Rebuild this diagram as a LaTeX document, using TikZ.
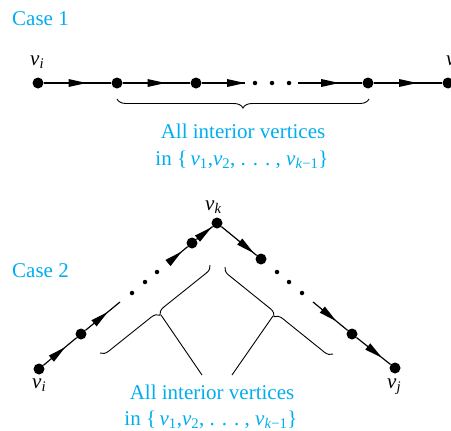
\documentclass[tikz,border=0pt]{standalone}
\usepackage{fontspec}
\setmainfont{Liberation Serif}
\usetikzlibrary{decorations.markings,decorations.pathreplacing,arrows.meta}
\definecolor{cyantext}{RGB}{0,174,239}
\newcommand\vx[1]{\textit{v}\textsubscript{#1}}
\newcommand\dotsx{.\hspace{7pt}.\hspace{7pt}.}
\begin{document}
\begin{tikzpicture}[x=1pt,y=1pt,
  vert/.style={circle,fill=black,inner sep=0pt,minimum size=11pt},
  sdot/.style={circle,fill=black,inner sep=0pt,minimum size=4.5pt},
  edge/.style={line width=1.2pt},
  marr/.style={postaction={decorate},decoration={markings,mark=at position #1 with {\fill (-9pt,-4pt) -- (9pt,0pt) -- (-9pt,4pt) -- cycle;}}},
  lbl/.style={font=\fontsize{21}{25}\selectfont,inner sep=0pt},
  cyanlbl/.style={lbl,text=cyantext},
  brc/.style={line width=0.9pt,decorate,decoration={brace,amplitude=#1}},
  brcm/.style={line width=0.9pt,decorate,decoration={brace,mirror,amplitude=#1}},
  lead/.style={line width=0.9pt}
]
\useasboundingbox (0,0) rectangle (451,-431);

% ---------- Case 1 ----------
\node[cyanlbl,anchor=base west] (case1) at (12,-25) {Case 1};
\node[vert] (a0) at (38,-83) {};
\node[vert] (a1) at (117,-83) {};
\node[vert] (a2) at (196,-83) {};
\coordinate (a2e) at (245,-83);
\node[sdot] (ad1) at (255,-83) {};
\node[sdot] (ad2) at (272,-83) {};
\node[sdot] (ad3) at (289,-83) {};
\coordinate (a3s) at (298,-83);
\node[vert] (a3) at (368,-83) {};
\node[vert] (a4) at (448,-83) {};
\node[lbl,anchor=base west] (la0) at (30,-65) {\vx{\textit{i}}};
\node[lbl,anchor=base west] (la4) at (446,-65) {\vx{\textit{j}}};

\draw[edge,marr=0.5] (a0) -- (a1);
\draw[edge,marr=0.5] (a1) -- (a2);
\draw[edge,marr=-9pt] (a2) -- (a2e);
\draw[edge,marr=0.5] (a3s) -- (a3);
\draw[edge,marr=0.5] (a3) -- (a4);

\coordinate (b1s) at (117,-99);
\coordinate (b1e) at (369,-99);
\draw[brcm=9pt] (b1s) -- (b1e);
\node[cyanlbl,anchor=base] (t1a) at (243,-138) {All interior vertices};
\node[cyanlbl,anchor=base] (t1b) at (242,-165) {in \{\,\vx{1},\vx{2}, \dotsx\ , \vx{\textit{k}−1}\}};

% ---------- Case 2 ----------
\node[cyanlbl,anchor=base west] (case2) at (12,-277) {Case 2};
\node[vert] (c0) at (39,-369) {};
\node[vert] (c1) at (81,-334) {};
\coordinate (c1e) at (120,-302);
\node[sdot] (cd1) at (132,-293) {};
\node[sdot] (cd2) at (145,-282) {};
\node[sdot] (cd3) at (157,-272) {};
\coordinate (c2s) at (168,-263);
\node[vert] (c2) at (192,-243) {};
\node[vert] (ck) at (217,-223) {};
\node[vert] (c3) at (261,-259) {};
\node[sdot] (cd4) at (277,-272) {};
\node[sdot] (cd5) at (289,-282) {};
\node[sdot] (cd6) at (302,-293) {};
\coordinate (c4s) at (313,-302);
\node[vert] (c4) at (352,-334) {};
\node[vert] (cj) at (395,-368) {};

\node[lbl,anchor=base west] (lck) at (205,-210) {\vx{\textit{k}}};
\node[lbl,anchor=base west] (lc0) at (32,-388) {\vx{\textit{i}}};
\node[lbl,anchor=base west] (lcj) at (387,-388) {\vx{\textit{j}}};

\draw[edge,marr=0.45] (c0) -- (c1);
\draw[edge,marr=0.45] (c1) -- (c1e);
\draw[edge,marr=9pt] (c2s) -- (c2);
\draw[edge,marr=0.5] (c2) -- (ck);
\draw[edge,marr=0.72] (ck) -- (c3);
\draw[edge,marr=0.47] (c4s) -- (c4);
\draw[edge,marr=0.54] (c4) -- (cj);

\coordinate (lbA) at (210,-265);
\coordinate (lbB) at (100,-353);
\coordinate (rbA) at (333,-354);
\coordinate (rbB) at (225,-267);
\draw[brc=8pt] (lbA) -- (lbB);
\draw[brc=8pt] (rbA) -- (rbB);
\coordinate (lbt) at (161,-315);
\coordinate (rbt) at (273,-316);
\coordinate (lbe) at (202,-375);
\coordinate (rbe) at (232,-375);
\draw[lead] (lbt) -- (lbe);
\draw[lead] (rbt) -- (rbe);

\node[cyanlbl,anchor=base] (t2a) at (212,-399) {All interior vertices};
\node[cyanlbl,anchor=base] (t2b) at (211,-425) {in \{\,\vx{1},\vx{2}, \dotsx\ , \vx{\textit{k}−1}\}};
\end{tikzpicture}
\end{document}
